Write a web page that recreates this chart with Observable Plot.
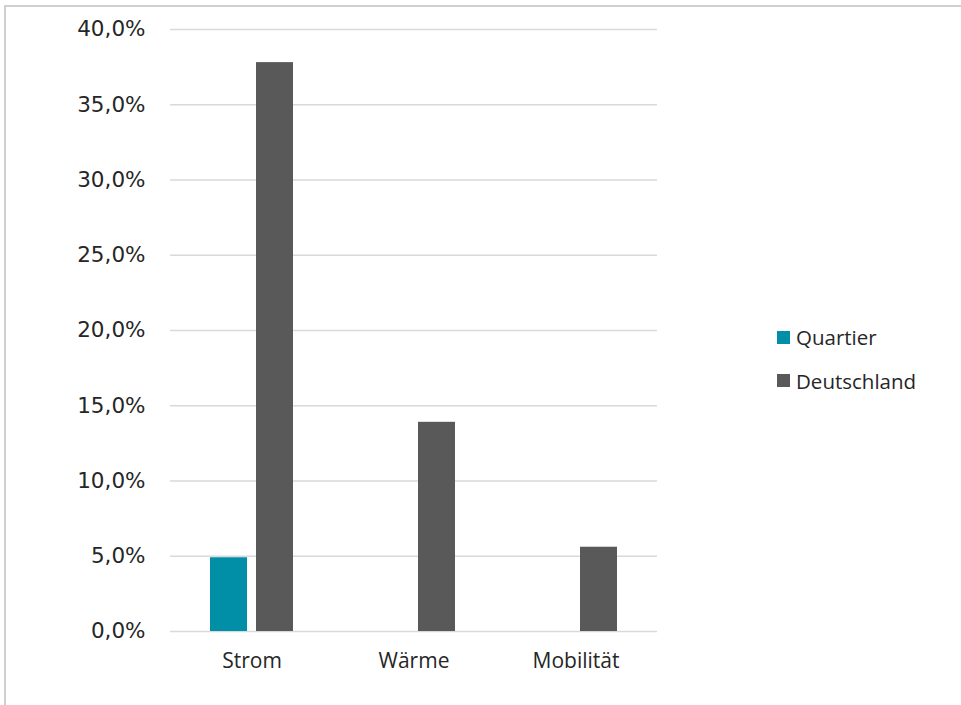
<!DOCTYPE html>
<html lang="de">
<head>
<meta charset="utf-8">
<script src="https://cdn.jsdelivr.net/npm/d3@7"></script>
<script src="https://cdn.jsdelivr.net/npm/@observablehq/plot@0.6"></script>
<style>
  html, body { margin: 0; padding: 0; background: #fff; }
  #wrap { position: relative; width: 961px; height: 705px; overflow: hidden; }
  #frame {
    position: absolute; left: 4px; top: 5px; width: 980px; height: 720px;
    border-left: 2px solid #d0d0d0; border-top: 2px solid #d0d0d0;
  }
  #chart { position: absolute; left: 0; top: 0; }
  #chart svg { background: transparent; }
  #chart [aria-label^="y-axis"] text {
    font-family: "DejaVu Sans", sans-serif; font-size: 21.5px; fill: #262626;
  }
  #chart [aria-label^="x-axis"] text {
    font-family: "Open Sans", sans-serif; font-size: 21px; fill: #262626;
  }
  #legend {
    position: absolute; left: 777px; top: 321px;
    font-family: "Open Sans", sans-serif; font-size: 20.5px; color: #262626;
  }
  #legend .row { display: flex; align-items: center; height: 32px; margin-bottom: 11.5px; }
  #legend .sw { width: 13px; height: 13px; margin-right: 6px; }
</style>
</head>
<body>
<div id="wrap">
  <div id="frame"></div>
  <div id="chart"></div>
  <div id="legend"></div>
</div>
<script>
// Categories and the two series (share in percent)
const categories = ["Strom", "Wärme", "Mobilität"];
const quartier = [4.9, 0, 0];
const deutschland = [37.8, 13.9, 5.6];
const seriesNames = ["Quartier", "Deutschland"];
const seriesColors = ["#008fa6", "#595959"];
const yTicks = [0, 5, 10, 15, 20, 25, 30, 35, 40];

const quartierRows = categories.map((c, i) => ({category: c, value: quartier[i]}));
const deutschlandRows = categories.map((c, i) => ({category: c, value: deutschland[i]}));

const fmt = d => d.toFixed(1).replace(".", ",") + "%";

const chart = Plot.plot({
  width: 961,
  height: 705,
  marginLeft: 170,
  marginRight: 304,
  marginTop: 29,
  marginBottom: 74,
  style: {background: "transparent", overflow: "visible"},
  x: {
    domain: categories,
    paddingInner: 0.489,
    paddingOuter: 0.245,
    label: null,
    tickSize: 0,
    tickPadding: 22
  },
  y: {
    domain: [0, 40],
    ticks: yTicks,
    tickFormat: fmt,
    tickSize: 0,
    tickPadding: 25,
    label: null
  },
  marks: [
    Plot.ruleY(yTicks, {stroke: "#d9d9d9", strokeWidth: 1.6}),
    Plot.barY(quartierRows, {x: "category", y: "value", fill: seriesColors[0], insetRight: 46}),
    Plot.barY(deutschlandRows, {x: "category", y: "value", fill: seriesColors[1], insetLeft: 46})
  ]
});
document.getElementById("chart").appendChild(chart);

// Legend to the right of the plot
const legend = document.getElementById("legend");
seriesNames.forEach((name, i) => {
  const row = document.createElement("div");
  row.className = "row";
  const sw = document.createElement("span");
  sw.className = "sw";
  sw.style.background = seriesColors[i];
  const label = document.createElement("span");
  label.textContent = name;
  row.appendChild(sw);
  row.appendChild(label);
  legend.appendChild(row);
});
</script>
</body>
</html>
